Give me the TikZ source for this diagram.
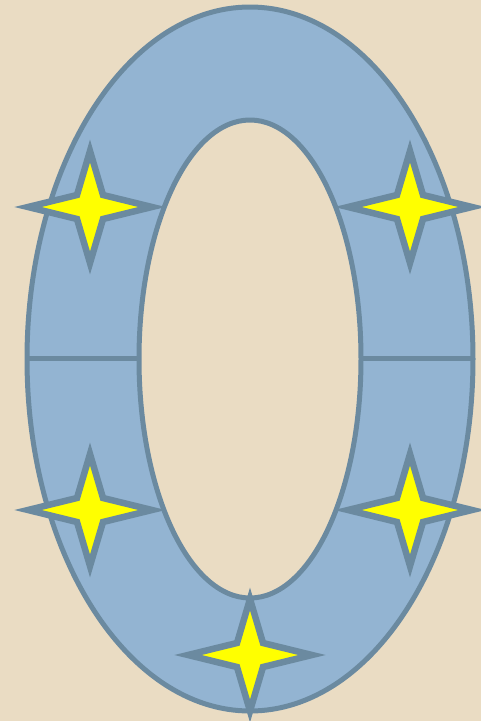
\documentclass[tikz,border=0pt]{standalone}
\usepackage{tikz}
\definecolor{Sand}{HTML}{EADCC3}
\definecolor{Ring}{HTML}{93B4D2}
\definecolor{Slate}{HTML}{6B8AA0}
\definecolor{Spark}{HTML}{FFFF00}

\begin{document}
\begin{tikzpicture}[
  x=1pt,y=-1pt,
  ringline/.style={draw=Slate,line width=5pt},
  sparkle/.pic={
    \path[draw=Slate,fill=Spark,line width=6.5pt,miter limit=20]
      (-62,0) -- (-13,-12) -- (0,-56) -- (13,-12) -- (62,0)
      -- (13,12) -- (0,56) -- (-13,12) -- cycle;
  }
]
\fill[Sand] (0,0) rectangle (481,721);
\useasboundingbox (0,0) rectangle (481,721);
\coordinate (mid) at (250,359);
% ring
\fill[Ring,even odd rule] (mid) ellipse [x radius=223,y radius=352]
  (mid) ellipse [x radius=111,y radius=239];
\draw[ringline] (mid) ellipse [x radius=223,y radius=352];
\draw[ringline] (mid) ellipse [x radius=111,y radius=239];
\coordinate (outerL) at (27,358);
\coordinate (innerL) at (139,358);
\coordinate (innerR) at (361,358);
\coordinate (outerR) at (473,358);
\draw[ringline] (outerL) -- (innerL);
\draw[ringline] (innerR) -- (outerR);
% sparkles
\pic at (90,207) {sparkle};
\pic at (410,207) {sparkle};
\pic at (90,510) {sparkle};
\pic at (410,510) {sparkle};
\pic at (250,655) {sparkle};
\end{tikzpicture}
\end{document}
